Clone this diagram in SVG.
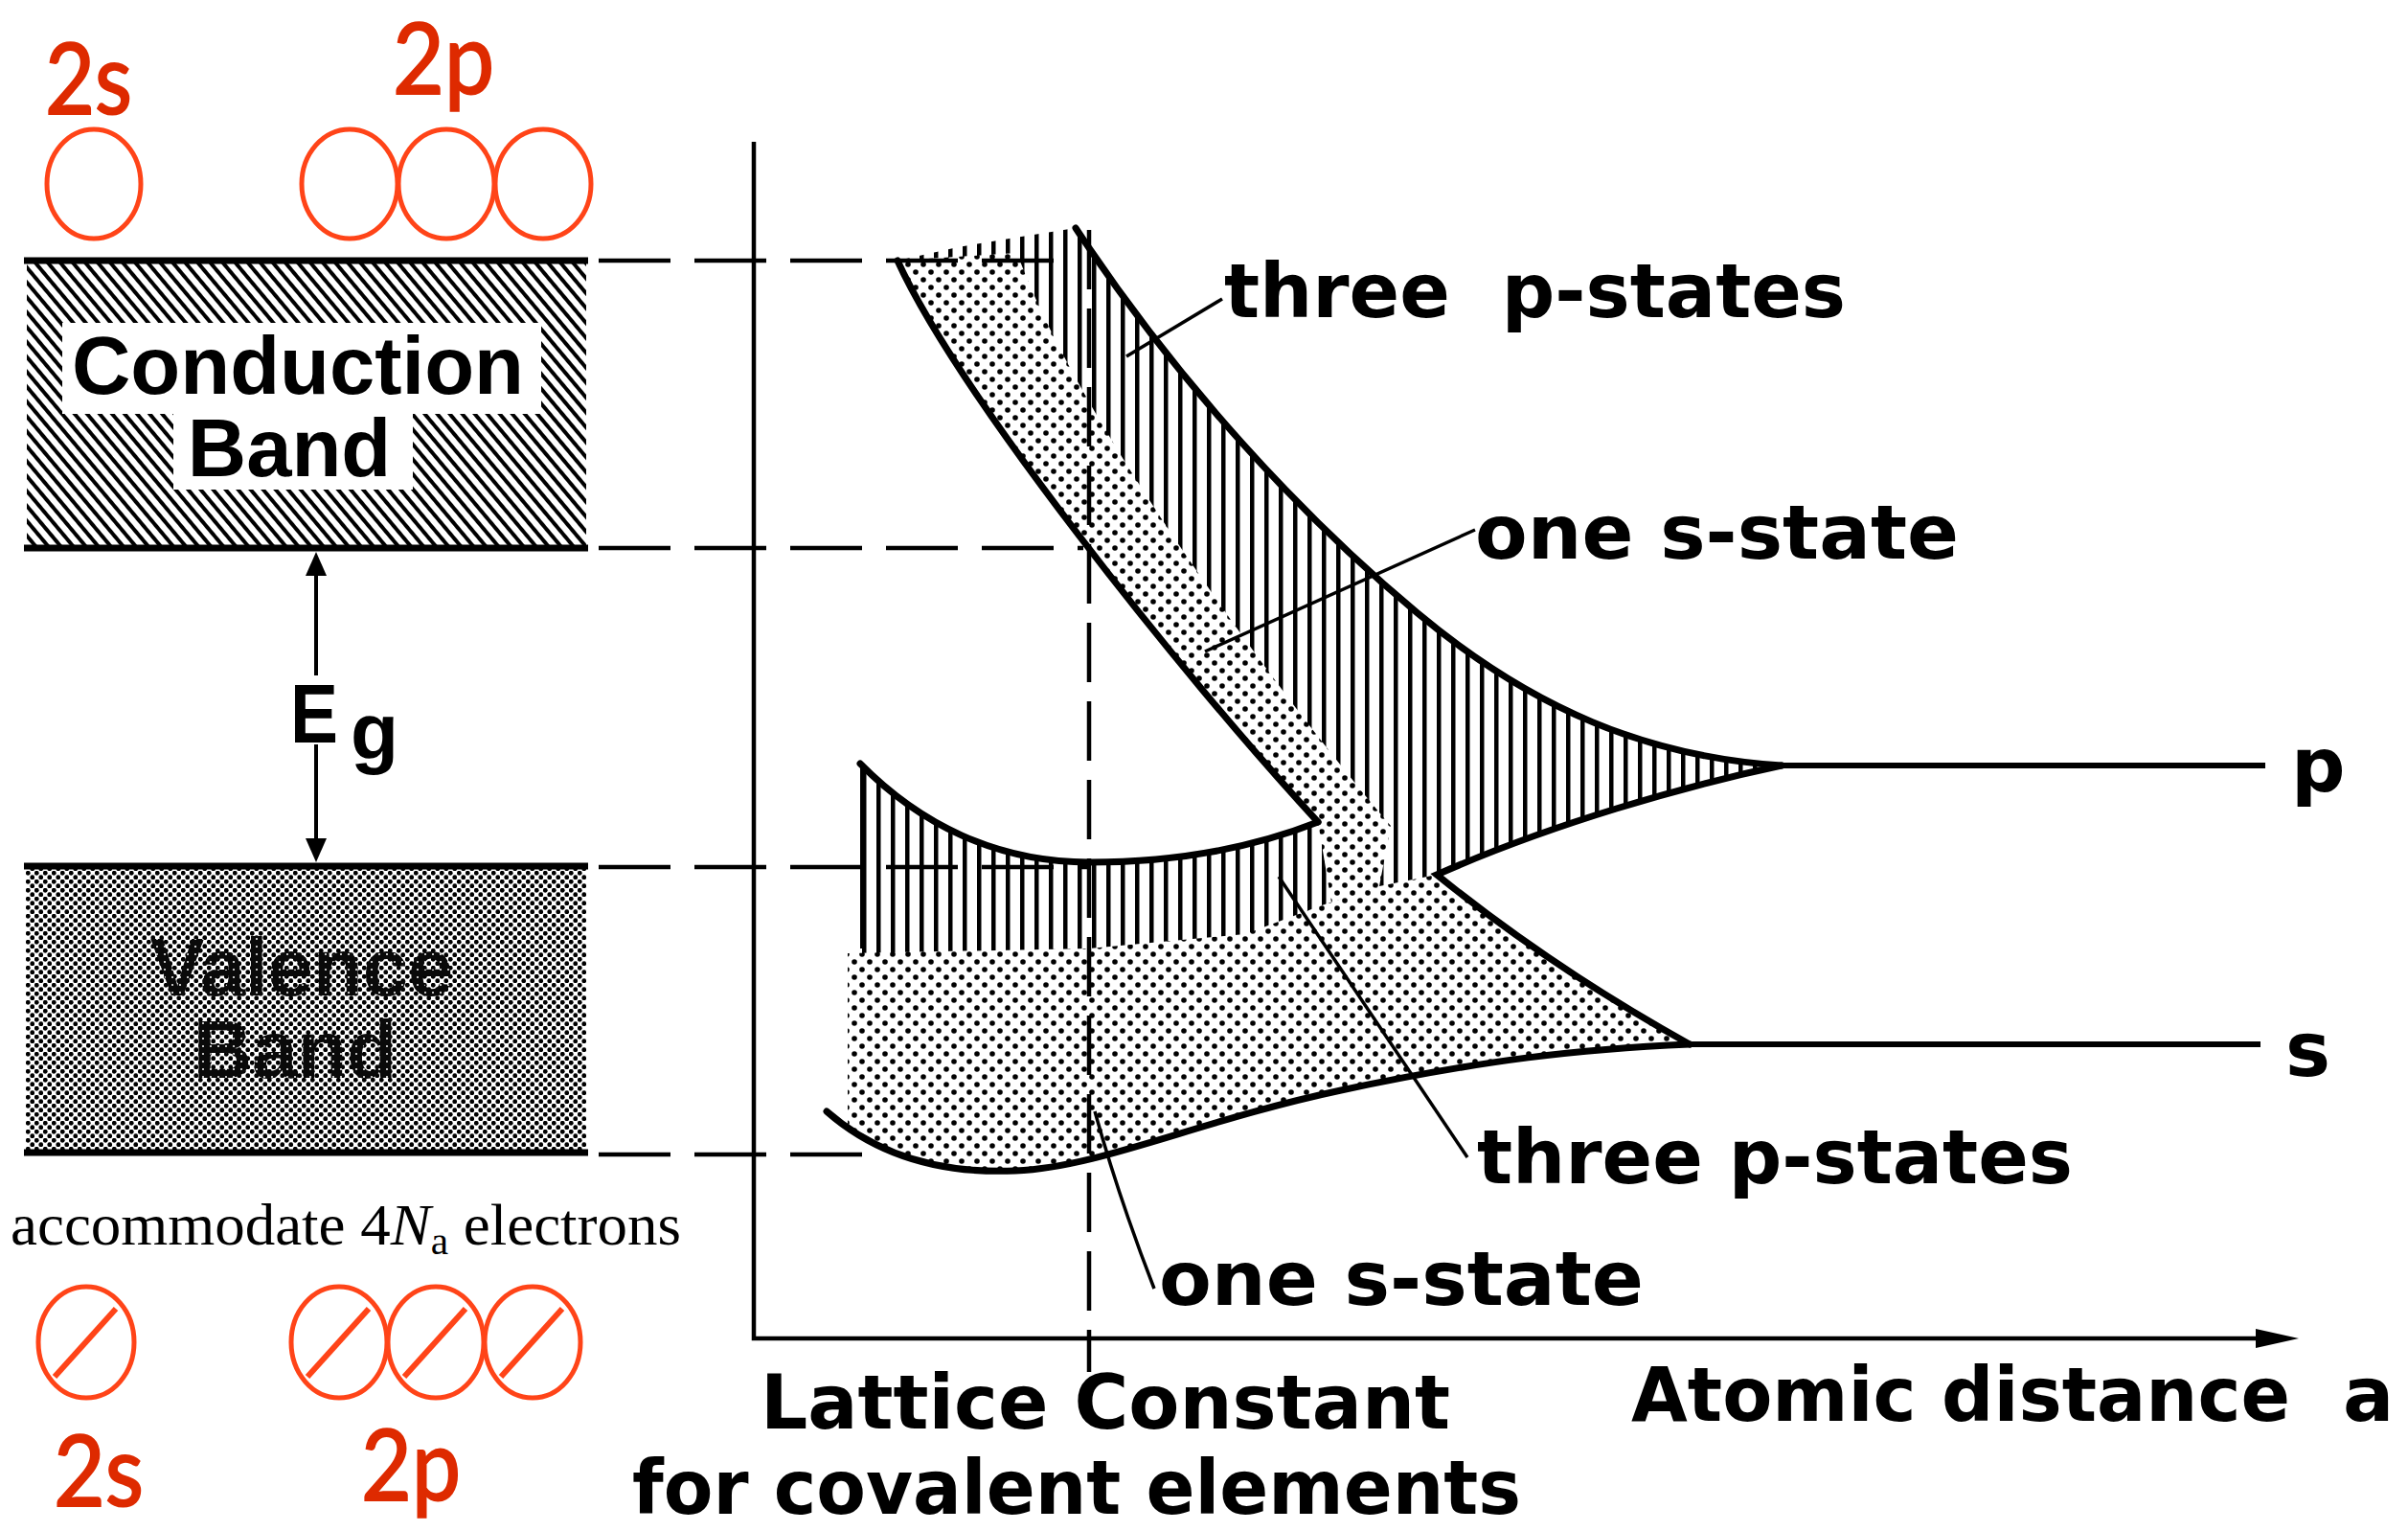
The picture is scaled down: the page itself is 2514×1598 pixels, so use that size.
<svg xmlns="http://www.w3.org/2000/svg" width="2514" height="1598" viewBox="0 0 2514 1598">
<defs>
<style>
.red{font-family:Lato,"Open Sans",sans-serif;fill:#DE2A00;stroke:#DE2A00;stroke-width:2;font-size:102px}
.orb{fill:none;stroke:#FF4418;stroke-width:5}
.slash{stroke:#FF4418;stroke-width:6;stroke-linecap:butt}
.bandline{stroke:#000;stroke-width:7;stroke-linecap:butt}
.big{font-family:"Liberation Sans",Arial,sans-serif;font-weight:bold;font-size:85px;fill:#000;text-anchor:middle}
.lab{font-family:"DejaVu Sans",sans-serif;font-weight:bold;font-size:79px;fill:#000}
.thick{fill:none;stroke:#000;stroke-width:7;stroke-linejoin:miter;stroke-linecap:round}
.lead{fill:none;stroke:#000;stroke-width:3.5}
.dash{fill:none;stroke:#000;stroke-width:4.5;stroke-dasharray:75 25}
.axis{fill:none;stroke:#000;stroke-width:4.5}
</style>
<pattern id="diag" width="10" height="10" patternUnits="userSpaceOnUse" patternTransform="rotate(-40)"><rect width="4" height="10" fill="#000"/></pattern>
<pattern id="vh" width="15" height="20" patternUnits="userSpaceOnUse"><rect width="15" height="20" fill="#fff"/><rect x="0" width="4.5" height="20" fill="#000"/></pattern>
<pattern id="dots" width="16" height="16" patternUnits="userSpaceOnUse"><rect width="16" height="16" fill="#fff"/><circle cx="4" cy="4" r="2.8" fill="#000"/><circle cx="12" cy="12" r="2.8" fill="#000"/></pattern>
<pattern id="vdots" width="9" height="9" patternUnits="userSpaceOnUse"><rect width="9" height="9" fill="#fff"/><circle cx="2.25" cy="2.25" r="2.4" fill="#000"/><circle cx="6.75" cy="6.75" r="2.4" fill="#000"/></pattern>
<pattern id="vtext" width="8" height="8" patternUnits="userSpaceOnUse"><rect width="8" height="8" fill="#0a0a0a"/><circle cx="4" cy="4" r="1" fill="#fff"/></pattern>
</defs>
<rect width="2514" height="1598" fill="#fff"/>

<g id="orbitals-top">
<text class="red" x="47" y="119" textLength="91" lengthAdjust="spacingAndGlyphs">2s</text>
<text class="red" x="410" y="98" textLength="106" lengthAdjust="spacingAndGlyphs">2p</text>
<ellipse class="orb" cx="98" cy="192" rx="49" ry="57"/>
<ellipse class="orb" cx="365" cy="192" rx="50" ry="57"/>
<ellipse class="orb" cx="466" cy="192" rx="50" ry="57"/>
<ellipse class="orb" cx="567" cy="192" rx="50" ry="57"/>
</g>

<g id="conduction-band">
<rect x="28" y="274" width="584" height="296" fill="url(#diag)"/>
<rect x="65" y="337" width="500" height="95" fill="#fff"/>
<rect x="181" y="430" width="250" height="81" fill="#fff"/>
<line class="bandline" x1="25" y1="272" x2="614" y2="272"/>
<line class="bandline" x1="25" y1="572" x2="614" y2="572"/>
<text class="big" x="311" y="411">Conduction</text>
<text class="big" x="302" y="497">Band</text>
</g>

<g id="gap">
<line x1="330" y1="598" x2="330" y2="705" stroke="#000" stroke-width="4"/>
<line x1="330" y1="777" x2="330" y2="876" stroke="#000" stroke-width="4"/>
<polygon points="330,576 319,601 341,601" fill="#000"/>
<polygon points="330,900 319,875 341,875" fill="#000"/>
<text x="303" y="775" font-family="Liberation Sans,Arial,sans-serif" font-weight="bold" font-size="88" textLength="50" lengthAdjust="spacingAndGlyphs">E</text>
<text x="366" y="792" font-family="Liberation Sans,Arial,sans-serif" font-weight="bold" font-size="82">g</text>
</g>

<g id="valence-band">
<rect x="27" y="904" width="585" height="299" fill="url(#vdots)"/>
<line class="bandline" x1="25" y1="904" x2="614" y2="904"/>
<line class="bandline" x1="25" y1="1203" x2="614" y2="1203"/>
<text class="big" x="315" y="1039" font-size="82" style="fill:url(#vtext)">Valence</text>
<text class="big" x="308" y="1125" font-size="82" style="fill:url(#vtext)">Band</text>
</g>

<g id="caption">
<text x="11" y="1299" font-family="Liberation Serif,Times New Roman,serif" font-size="61" fill="#000" textLength="700" lengthAdjust="spacingAndGlyphs">accommodate 4<tspan font-style="italic">N</tspan><tspan font-size="40" dy="10">a</tspan><tspan dy="-10"> electrons</tspan></text>
</g>

<g id="orbitals-bottom">
<ellipse class="orb" cx="90" cy="1401" rx="50" ry="58"/>
<ellipse class="orb" cx="354" cy="1401" rx="50" ry="58"/>
<ellipse class="orb" cx="455" cy="1401" rx="50" ry="58"/>
<ellipse class="orb" cx="556" cy="1401" rx="50" ry="58"/>
<line class="slash" x1="57" y1="1437" x2="121" y2="1366"/>
<line class="slash" x1="321" y1="1437" x2="385" y2="1366"/>
<line class="slash" x1="422" y1="1437" x2="486" y2="1366"/>
<line class="slash" x1="523" y1="1437" x2="587" y2="1366"/>
<text class="red" x="56" y="1572" textLength="94" lengthAdjust="spacingAndGlyphs">2s</text>
<text class="red" x="377" y="1566" textLength="104" lengthAdjust="spacingAndGlyphs">2p</text>
</g>

<g id="bands-graph">
<path fill="url(#vh)" d="M898,797 C960,860 1040,900 1137,900 C1240,900 1320,880 1376,858 C1230,700 1000,410 937,272 L1000,258 L1060,248 L1123,238 C1230,400 1360,540 1480,640 C1600,740 1720,790 1860,799 C1760,820 1620,860 1500,913 L1500,1000 L898,1000 Z"/>
<path fill="url(#dots)" d="M937,272 C1000,410 1230,700 1376,858 L1390,942 L1440,925 L1452,862 C1330,720 1120,430 1062,264 Z"/>
<path fill="url(#dots)" d="M885,995 L885,1180 C930,1212 995,1225 1060,1222 C1150,1218 1250,1170 1400,1138 C1550,1106 1650,1095 1764,1090 Q1620,1010 1500,913 L1440,925 L1380,945 L1300,975 L1137,990 Z"/>
<line x1="900" y1="797" x2="900" y2="990" stroke="#000" stroke-width="4"/>
<path class="thick" d="M937,272 C1000,410 1230,700 1376,858"/>
<path class="thick" d="M1123,238 C1230,400 1360,540 1480,640 C1600,740 1720,790 1860,799"/>
<path class="thick" d="M1860,799 C1760,820 1620,860 1500,913 Q1620,1010 1764,1090"/>
<path class="thick" d="M898,797 C960,860 1040,900 1137,900 C1240,900 1320,880 1376,858"/>
<path class="thick" d="M863,1160 C920,1210 990,1225 1060,1222 C1150,1218 1250,1170 1400,1138 C1550,1106 1650,1095 1764,1090"/>
<line x1="1860" y1="799" x2="2365" y2="799" stroke="#000" stroke-width="6"/>
<line x1="1764" y1="1090" x2="2360" y2="1090" stroke="#000" stroke-width="6"/>
<text class="lab" x="2392" y="826" font-size="85">p</text>
<text class="lab" x="2386" y="1123" font-size="85">s</text>
</g>

<g id="connectors">
<path class="dash" d="M625,272 H1125"/>
<path class="dash" d="M625,572 H1131"/>
<path class="dash" d="M625,905 H1137"/>
<path class="dash" d="M625,1205 H922"/>
<path class="dash" style="stroke-dasharray:62 20" d="M1137,240 V1432"/>
<path class="lead" d="M1276,312 L1176,372"/>
<path class="lead" d="M1540,553 L1258,680"/>
<path class="lead" d="M1532,1208 L1335,915"/>
<path class="lead" d="M1205,1345 Q1168,1250 1143,1160"/>
<path class="axis" d="M787,148 V1397 H2360"/>
<polygon points="2400,1397 2355,1387 2355,1407" fill="#000"/>
</g>

<g id="labels">
<text class="lab" x="1278" y="331" textLength="649" lengthAdjust="spacingAndGlyphs" xml:space="preserve">three  p-states</text>
<text class="lab" x="1540" y="583" textLength="505" lengthAdjust="spacingAndGlyphs">one s-state</text>
<text class="lab" x="1542" y="1235" textLength="622" lengthAdjust="spacingAndGlyphs">three p-states</text>
<text class="lab" x="1210" y="1362" textLength="506" lengthAdjust="spacingAndGlyphs">one s-state</text>
<text class="lab" x="794" y="1491" font-size="80" textLength="720" lengthAdjust="spacingAndGlyphs">Lattice Constant</text>
<text class="lab" x="660" y="1580" font-size="80" textLength="928" lengthAdjust="spacingAndGlyphs">for covalent elements</text>
<text class="lab" x="1703" y="1483" font-size="80" textLength="688" lengthAdjust="spacingAndGlyphs">Atomic distance</text>
<text class="lab" x="2446" y="1483" font-size="80">a</text>
</g>
</svg>
